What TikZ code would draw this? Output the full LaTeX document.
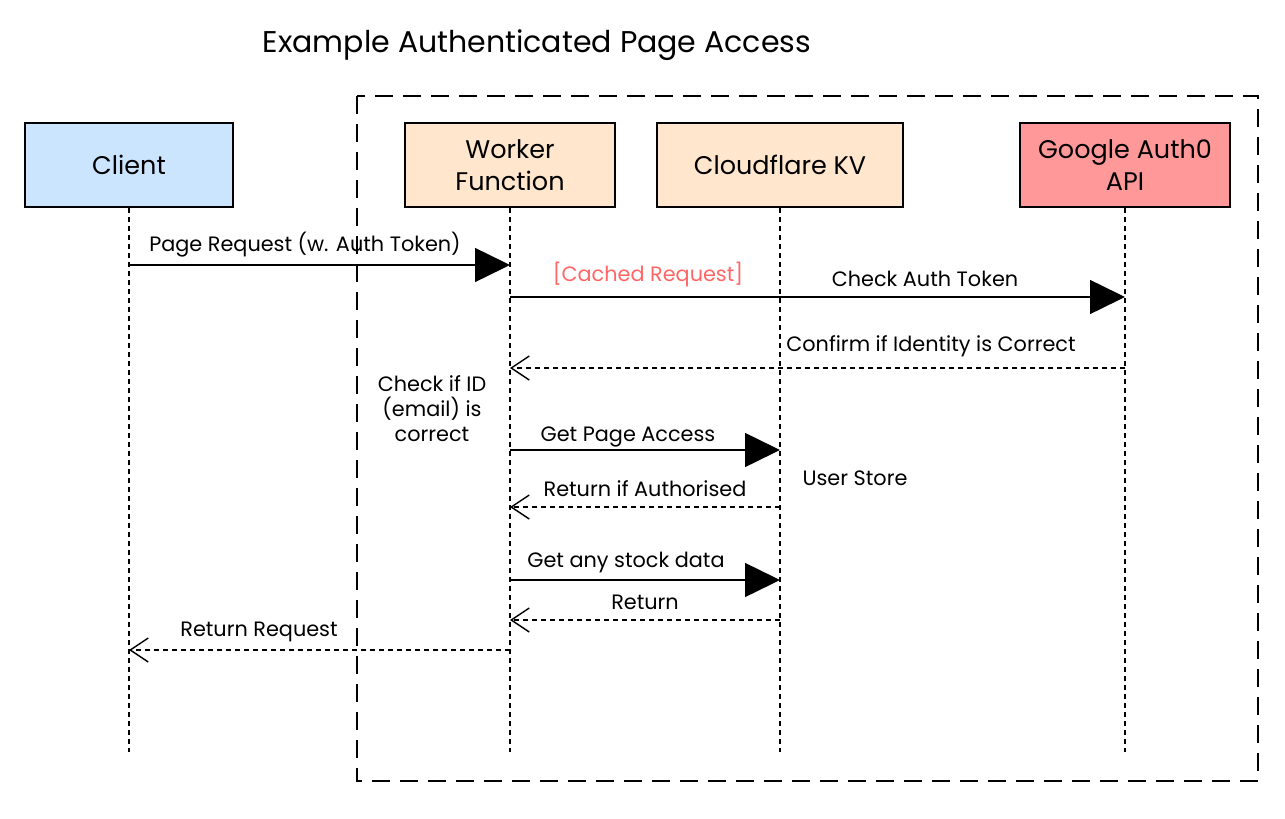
\documentclass[tikz,border=0pt]{standalone}
\usepackage{fontspec}
\setmainfont{Poppins}
\usetikzlibrary{arrows.meta}
\definecolor{cblue}{HTML}{CCE5FF}
\definecolor{corange}{HTML}{FFE6CC}
\definecolor{cred}{HTML}{FF9999}
\definecolor{ctext}{HTML}{FF6666}
\tikzset{
  actor/.style={draw=black, line width=2pt, minimum height=84pt, inner sep=0pt, align=center, font=\fontsize{25.5}{32}\selectfont},
  lifeline/.style={draw=black, line width=1.4pt, dash pattern=on 5pt off 4pt},
  call/.style={draw=black, line width=1.5pt, -{Triangle[length=35pt,width=34pt]}},
  reply/.style={draw=black, line width=1.4pt, dash pattern=on 5pt off 4pt, -{Straight Barb[length=18pt,width=24pt,line width=1.4pt]}},
  lbl/.style={font=\fontsize{20.8}{25}\selectfont, inner sep=0pt, align=center},
  frame/.style={draw=black, line width=2pt, dash pattern=on 18pt off 10pt}
}
\begin{document}
\begin{tikzpicture}[x=1pt,y=-1pt]
\useasboundingbox (0,0) rectangle (1285,819);
\node[font=\fontsize{30}{36}\selectfont, inner sep=0pt] (title) at (537,45) {Example Authenticated Page Access};
\draw[frame] (357,96) rectangle (1258,781);
\node[actor, fill=cblue, minimum width=208pt] (client) at (129,165) {Client};
\node[actor, fill=corange, minimum width=210pt] (worker) at (510,165) {Worker\\Function};
\node[actor, fill=corange, minimum width=246pt] (kv) at (780,165) {Cloudflare KV};
\node[actor, fill=cred, minimum width=210pt] (google) at (1125,165) {Google Auth0\\API};
\draw[lifeline] (client.south) -- (client.south |- 0,752);
\draw[lifeline] (worker.south) -- (worker.south |- 0,752);
\draw[lifeline] (kv.south) -- (kv.south |- 0,752);
\draw[lifeline] (google.south) -- (google.south |- 0,752);
% message end points
\coordinate (c1) at (client.south |- 0,265);
\coordinate (w1) at (worker.south |- 0,265);
\coordinate (w2) at (worker.south |- 0,297);
\coordinate (g2) at (google.south |- 0,297);
\coordinate (g3) at (google.south |- 0,368);
\coordinate (w3) at (worker.south |- 0,368);
\coordinate (w4) at (worker.south |- 0,450);
\coordinate (k4) at (kv.south |- 0,450);
\coordinate (k5) at (kv.south |- 0,507);
\coordinate (w5) at (worker.south |- 0,507);
\coordinate (w6) at (worker.south |- 0,580);
\coordinate (k6) at (kv.south |- 0,580);
\coordinate (k7) at (kv.south |- 0,620);
\coordinate (w7) at (worker.south |- 0,620);
\coordinate (w8) at (worker.south |- 0,650);
\coordinate (c8) at (client.south |- 0,650);
\draw[call] (c1) -- (w1);
\draw[call] (w2) -- (g2);
\draw[reply] (g3) -- (w3);
\draw[call] (w4) -- (k4);
\draw[reply] (k5) -- (w5);
\draw[call] (w6) -- (k6);
\draw[reply] (k7) -- (w7);
\draw[reply] (w8) -- (c8);
\node[lbl] (l1) at (305,245) {Page Request (w. Auth Token)};
\node[lbl, text=ctext] (l2a) at (648,274) {[Cached Request]};
\node[lbl] (l2) at (925,279) {Check Auth Token};
\node[lbl] (l3) at (931,346) {Confirm if Identity is Correct};
\node[lbl] (note) at (432,409) {Check if ID\\(email) is\\correct};
\node[lbl] (l4) at (628,437) {Get Page Access};
\node[lbl] (store) at (855,478) {User Store};
\node[lbl] (l5) at (645,489) {Return if Authorised};
\node[lbl] (l6) at (626,562) {Get any stock data};
\node[lbl] (l7) at (645,602) {Return};
\node[lbl] (l8) at (259,632) {Return Request};
\end{tikzpicture}
\end{document}
